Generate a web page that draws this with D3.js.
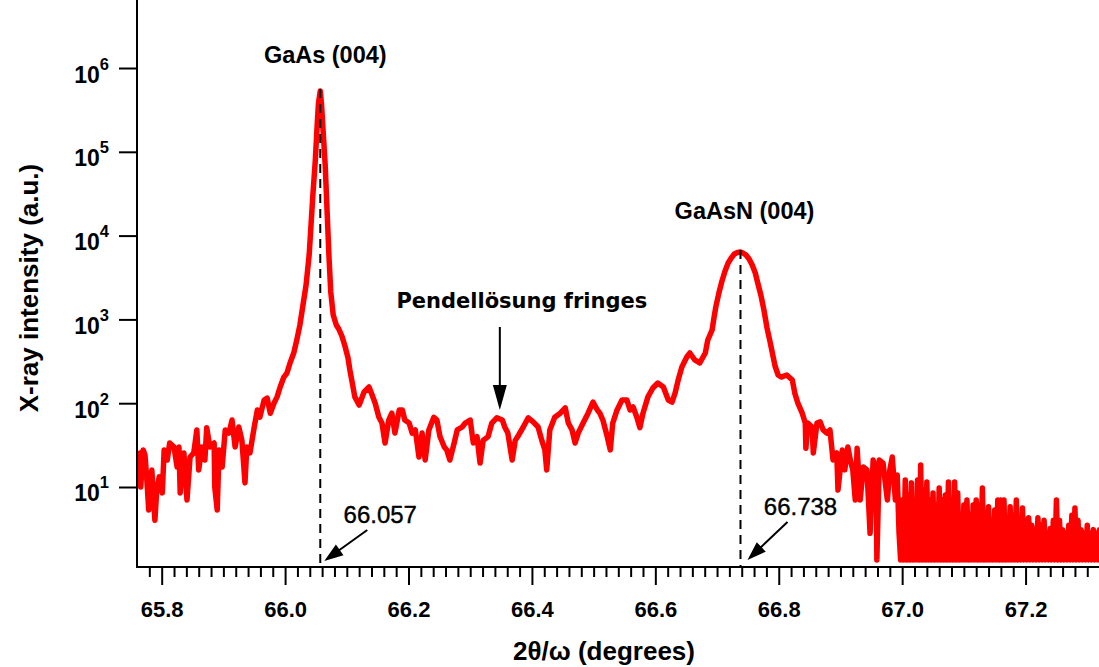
<!DOCTYPE html>
<html>
<head>
<meta charset="utf-8">
<script src="https://cdn.jsdelivr.net/npm/d3@7"></script>
<style>
  html, body { margin: 0; padding: 0; background: #ffffff; }
  svg { display: block; }
</style>
</head>
<body>
<svg id="chart" width="1099" height="667"></svg>
<script>
// ---------------- DATA ----------------
// 2theta/omega scan (degrees) and X-ray intensity (a.u.)
const twoTheta = [
  65.765, 65.766, 65.770, 65.773, 65.776, 65.779, 65.784, 65.789, 65.792, 65.796,
  65.801, 65.804, 65.809, 65.813, 65.820, 65.825, 65.828, 65.830, 65.833, 65.836,
  65.841, 65.846, 65.852, 65.857, 65.860, 65.865, 65.870, 65.873, 65.878, 65.885,
  65.886, 65.890, 65.893, 65.898, 65.903, 65.909, 65.914, 65.919, 65.925, 65.930,
  65.935, 65.938, 65.943, 65.950, 65.955, 65.959, 65.966, 65.971, 65.976, 65.982,
  65.987, 65.992, 65.998, 66.003, 66.008, 66.014, 66.019, 66.024, 66.029, 66.034,
  66.039, 66.042, 66.045, 66.049, 66.052, 66.054, 66.057, 66.059, 66.061, 66.065,
  66.068, 66.071, 66.074, 66.078, 66.083, 66.087, 66.092, 66.097, 66.102, 66.105,
  66.108, 66.113, 66.120, 66.128, 66.136, 66.141, 66.146, 66.152, 66.157, 66.162,
  66.168, 66.173, 66.178, 66.185, 66.190, 66.194, 66.201, 66.206, 66.211, 66.217,
  66.222, 66.227, 66.233, 66.241, 66.246, 66.251, 66.258, 66.262, 66.267, 66.274,
  66.279, 66.287, 66.292, 66.300, 66.305, 66.311, 66.316, 66.321, 66.329, 66.335,
  66.343, 66.352, 66.356, 66.361, 66.368, 66.373, 66.377, 66.386, 66.394, 66.402,
  66.410, 66.416, 66.421, 66.424, 66.429, 66.437, 66.446, 66.454, 66.459, 66.465,
  66.470, 66.475, 66.483, 66.491, 66.499, 66.506, 66.510, 66.515, 66.522, 66.527,
  66.531, 66.538, 66.546, 66.554, 66.559, 66.564, 66.570, 66.575, 66.580, 66.588,
  66.596, 66.604, 66.613, 66.621, 66.627, 66.632, 66.637, 66.643, 66.651, 66.656,
  66.664, 66.672, 66.681, 66.685, 66.692, 66.695, 66.698, 66.703, 66.708, 66.713,
  66.718, 66.723, 66.728, 66.733, 66.738, 66.742, 66.747, 66.752, 66.757, 66.762,
  66.766, 66.771, 66.776, 66.781, 66.786, 66.789, 66.794, 66.799, 66.804, 66.813,
  66.822, 66.826, 66.831, 66.838, 66.843, 66.844, 66.847, 66.854, 66.856, 66.862,
  66.867, 66.872, 66.878, 66.883, 66.888, 66.894, 66.896, 66.903, 66.907, 66.912,
  66.916, 66.920, 66.924, 66.927, 66.932, 66.937, 66.943, 66.948, 66.953, 66.958,
  66.959, 66.963, 66.969, 66.976, 66.980, 66.984, 66.989, 66.992,
  66.9950, 66.9975, 67.0000, 67.0025, 67.0050, 67.0075, 67.0100, 67.0125, 67.0150, 67.0175,
  67.0200, 67.0225, 67.0250, 67.0275, 67.0300, 67.0325, 67.0350, 67.0375, 67.0400, 67.0425,
  67.0450, 67.0475, 67.0500, 67.0525, 67.0550, 67.0575, 67.0600, 67.0625, 67.0650, 67.0675,
  67.0700, 67.0725, 67.0750, 67.0775, 67.0800, 67.0825, 67.0850, 67.0875, 67.0900, 67.0925,
  67.0950, 67.0975, 67.1000, 67.1025, 67.1050, 67.1075, 67.1100, 67.1125, 67.1150, 67.1175,
  67.1200, 67.1225, 67.1250, 67.1275, 67.1300, 67.1325, 67.1350, 67.1375, 67.1400, 67.1425,
  67.1450, 67.1475, 67.1500, 67.1525, 67.1550, 67.1575, 67.1600, 67.1625, 67.1650, 67.1675,
  67.1700, 67.1725, 67.1750, 67.1775, 67.1800, 67.1825, 67.1850, 67.1875, 67.1900, 67.1925,
  67.1950, 67.1975, 67.2000, 67.2025, 67.2050, 67.2075, 67.2100, 67.2125, 67.2150, 67.2175,
  67.2200, 67.2225, 67.2250, 67.2275, 67.2300, 67.2325, 67.2350, 67.2375, 67.2400, 67.2425,
  67.2450, 67.2475, 67.2500, 67.2525, 67.2550, 67.2575, 67.2600, 67.2625, 67.2650, 67.2675,
  67.2700, 67.2725, 67.2750, 67.2775, 67.2800, 67.2825, 67.2850, 67.2875, 67.2900, 67.2925,
  67.2950, 67.2975, 67.3000, 67.3025, 67.3050, 67.3075, 67.3100, 67.3125, 67.3150, 67.3175,
  67.3200
];

const intensity = [
  25.5, 10, 27.7, 24, 12.1, 5.3, 16, 4.0, 9.2, 13.2,
  8.5, 27.7, 21, 33.5, 30, 17.3, 30, 8.5, 18.3, 25.5,
  7.0, 22.8, 25.5, 48, 16, 30, 21, 51, 30, 33.5,
  10, 5.3, 27.7, 17.3, 48, 44, 63, 30, 52, 36,
  11.2, 30, 25.5, 52, 83, 68, 109, 115, 76, 100,
  119, 156, 205, 229, 302, 397, 568, 857, 1486, 2576,
  5860, 13360, 30480, 79800, 209000, 372000, 532000, 372000, 209000, 69500,
  20200, 5860, 2123, 1130, 857, 768, 634, 482, 346, 249,
  189, 119, 95, 136, 156, 125, 100, 68, 58, 33.5,
  63, 76, 44, 83, 83, 63, 58, 44, 48, 22.8,
  44, 21, 48, 68, 63, 40, 30, 27.7, 21, 33.5,
  48, 52, 58, 63, 33.5, 40, 19.3, 36, 40, 58,
  67, 63, 52, 44, 21, 36, 40, 52, 67, 60,
  52, 36, 27.7, 16, 48, 68, 76, 88, 58, 48,
  33.5, 44, 58, 76, 103, 83, 76, 63, 40, 27.7,
  58, 83, 109, 109, 83, 90, 68, 51, 76, 119,
  152, 174, 156, 109, 103, 132, 189, 271, 356, 397,
  328, 302, 397, 568, 748, 1040, 1406, 2065, 2871, 3784,
  4713, 5407, 6030, 6280, 6370, 6194, 5860, 5260, 4460, 3580,
  2718, 1954, 1294, 789, 537, 420, 278, 217, 205, 217,
  189, 132, 100, 76, 58, 29, 58, 52, 25.5, 58,
  60, 48, 44, 48, 21, 25.5, 9.2, 27.7, 16, 30,
  21, 16, 7.0, 29, 7.0, 17.3, 16, 2.8, 21, 16,
  1.35, 21, 19.3, 7.0, 16, 22.8, 7.0, 13.9,
  2.8, 1.35, 7.0, 1.35, 12.1, 1.35, 8.0, 1.35, 11.2, 1.35,
  6.1, 1.35, 12.1, 1.35, 18.3, 1.35, 9.2, 1.35, 11.5, 1.35,
  7.0, 1.35, 8.5, 1.35, 6.1, 1.35, 9.7, 1.35, 7.0, 1.35,
  8.0, 1.35, 11.5, 1.35, 7.0, 1.35, 11.5, 1.35, 8.5, 1.35,
  4.4, 1.35, 6.1, 1.35, 7.0, 1.35, 4.6, 1.35, 6.1, 1.35,
  7.0, 1.35, 6.1, 1.35, 9.7, 1.35, 5.0, 1.35, 5.8, 1.35,
  4.0, 1.35, 5.3, 1.35, 7.0, 1.35, 7.0, 1.35, 7.0, 1.35,
  4.0, 1.35, 5.8, 1.35, 4.6, 1.35, 7.0, 1.35, 3.5, 1.35,
  5.6, 1.35, 4.0, 1.35, 4.3, 1.35, 3.5, 1.35, 3.1, 1.35,
  4.3, 1.35, 3.5, 1.35, 4.0, 1.35, 2.8, 1.35, 3.2, 1.35,
  4.0, 1.35, 7.0, 1.35, 4.0, 1.35, 3.1, 1.35, 2.8, 1.35,
  3.5, 1.35, 4.6, 1.35, 5.6, 1.35, 4.0, 1.35, 3.1, 1.35,
  2.8, 1.35, 3.5, 1.35, 2.8, 1.35, 3.1, 1.35, 2.8, 1.35,
  3.1
];

const xTickValues = [65.8, 66.0, 66.2, 66.4, 66.6, 66.8, 67.0, 67.2];
const xTickLabels = ["65.8", "66.0", "66.2", "66.4", "66.6", "66.8", "67.0", "67.2"];
const yTickValues = [1e1, 1e2, 1e3, 1e4, 1e5, 1e6];
const yTickExponents = ["1", "2", "3", "4", "5", "6"];

const peakPositions = [66.057, 66.738];
const peakIntensities = [532000, 6370];
const peakNames = ["GaAs (004)", "GaAsN (004)"];
const peakValueLabels = ["66.057", "66.738"];
const fringeLabel = "Pendellösung fringes";
const fringePosition = 66.348;

const xTitle = "2θ/ω (degrees)";
const yTitle = "X-ray intensity (a.u.)";

// ---------------- LAYOUT ----------------
const W = 1099, H = 667;
const plot = { left: 137, right: 1099, top: 0, bottom: 567 };
const FONT = "'Liberation Sans', Arial, Helvetica, sans-serif";

const svg = d3.select("#chart");
svg.append("rect").attr("width", W).attr("height", H).attr("fill", "#fff");

const x = d3.scaleLinear().domain([65.76, 67.319]).range([plot.left, plot.right]);
const y = d3.scaleLog().domain([1.11, 6.48e6]).range([plot.bottom, plot.top]);

svg.append("defs").append("clipPath").attr("id", "clip")
  .append("rect").attr("x", plot.left).attr("y", plot.top)
  .attr("width", plot.right - plot.left).attr("height", plot.bottom - plot.top);

const data = twoTheta.map((t, i) => ({ t, v: intensity[i] }));

// data line
const line = d3.line().x(d => x(d.t)).y(d => y(d.v));
svg.append("path")
  .datum(data)
  .attr("clip-path", "url(#clip)")
  .attr("d", line)
  .attr("fill", "none")
  .attr("stroke", "#ff0000")
  .attr("stroke-width", 5.5)
  .attr("stroke-linejoin", "round")
  .attr("stroke-linecap", "round");

// dashed peak markers (drawn over the curve)
peakPositions.forEach((p, i) => {
  svg.append("line")
    .attr("x1", x(p)).attr("x2", x(p))
    .attr("y1", y(peakIntensities[i]) - 2).attr("y2", plot.bottom)
    .attr("stroke", "#000").attr("stroke-width", 2)
    .attr("stroke-dasharray", "9,6");
});

// ---------------- AXES ----------------
const minorTicks = d3.range(0, 78).map(k => +(65.78 + k * 0.02).toFixed(2))
  .filter(v => !xTickValues.some(m => Math.abs(m - v) < 1e-6));

const gx = svg.append("g").attr("transform", `translate(0,${plot.bottom})`);
gx.call(d3.axisBottom(x).tickValues(minorTicks).tickSize(10).tickFormat(""))
  .call(g => g.select(".domain").remove());
gx.selectAll("line").attr("stroke", "#000").attr("stroke-width", 2);

const gxMaj = svg.append("g").attr("transform", `translate(0,${plot.bottom})`);
gxMaj.call(d3.axisBottom(x).tickValues(xTickValues).tickSize(18)
  .tickFormat((d, i) => xTickLabels[i]))
  .call(g => g.select(".domain").remove());
gxMaj.selectAll("line").attr("stroke", "#000").attr("stroke-width", 2);
gxMaj.selectAll("text")
  .attr("y", 50).attr("dy", 0)
  .attr("fill", "#000")
  .style("font-family", FONT).style("font-weight", "bold").style("font-size", "22px");

const gy = svg.append("g").attr("transform", `translate(${plot.left},0)`);
gy.call(d3.axisLeft(y).tickValues(yTickValues).tickSize(18).tickFormat(""))
  .call(g => g.select(".domain").remove());
gy.selectAll("line").attr("stroke", "#000").attr("stroke-width", 2);
gy.selectAll(".tick").each(function(d, i) {
  const t = d3.select(this).append("text")
    .attr("x", -28).attr("y", 14)
    .attr("text-anchor", "end")
    .attr("fill", "#000")
    .style("font-family", FONT).style("font-weight", "bold").style("font-size", "23px");
  t.append("tspan").text("10");
  t.append("tspan").attr("dy", -13).style("font-size", "16.5px").text(yTickExponents[i]);
});

svg.append("line").attr("x1", plot.left - 1).attr("x2", plot.right)
  .attr("y1", plot.bottom).attr("y2", plot.bottom)
  .attr("stroke", "#000").attr("stroke-width", 2);
svg.append("line").attr("x1", plot.left).attr("x2", plot.left)
  .attr("y1", plot.top).attr("y2", plot.bottom + 1)
  .attr("stroke", "#000").attr("stroke-width", 2);

svg.append("text")
  .attr("x", 604).attr("y", 660)
  .attr("text-anchor", "middle").attr("fill", "#000")
  .style("font-family", FONT).style("font-weight", "bold").style("font-size", "26px")
  .text(xTitle);

svg.append("text")
  .attr("transform", "translate(38,288) rotate(-90)")
  .attr("text-anchor", "middle").attr("fill", "#000")
  .style("font-family", FONT).style("font-weight", "bold").style("font-size", "26px")
  .text(yTitle);

// ---------------- ANNOTATIONS ----------------
function arrow(x1, y1, x2, y2, headLen, headW) {
  const dx = x2 - x1, dy = y2 - y1, L = Math.hypot(dx, dy);
  const ux = dx / L, uy = dy / L;
  const bx = x2 - ux * headLen, by = y2 - uy * headLen;
  svg.append("line").attr("x1", x1).attr("y1", y1).attr("x2", bx + ux * 2).attr("y2", by + uy * 2)
    .attr("stroke", "#000").attr("stroke-width", 2);
  const px = -uy * headW / 2, py = ux * headW / 2;
  svg.append("path")
    .attr("d", `M${x2},${y2}L${bx + px},${by + py}L${bx - px},${by - py}Z`)
    .attr("fill", "#000");
}

const nameOffsets = [[5, -28], [4, -33]];
peakNames.forEach((n, i) => {
  svg.append("text")
    .attr("x", x(peakPositions[i]) + nameOffsets[i][0])
    .attr("y", y(peakIntensities[i]) + nameOffsets[i][1])
    .attr("text-anchor", "middle").attr("fill", "#000")
    .style("font-family", FONT).style("font-weight", "bold").style("font-size", "23.5px")
    .text(n);
});

const valueLabelBaselines = [523, 515];
const arrowTails = [[47, 530], [47, 522]];
const arrowTips = [[4, 561], [7, 560]];
peakValueLabels.forEach((lab, i) => {
  const px = x(peakPositions[i]);
  svg.append("text")
    .attr("x", px + 60).attr("y", valueLabelBaselines[i])
    .attr("text-anchor", "middle").attr("fill", "#000")
    .style("font-family", FONT).style("font-size", "24px")
    .style("stroke", "#000").style("stroke-width", 0.4)
    .text(lab);
  arrow(px + arrowTails[i][0], arrowTails[i][1], px + arrowTips[i][0], arrowTips[i][1], 19, 13);
});

svg.append("text")
  .attr("x", x(fringePosition) + 22).attr("y", 308)
  .attr("text-anchor", "middle").attr("fill", "#000")
  .style("font-family", "'DejaVu Sans', Verdana, sans-serif")
  .style("font-weight", "bold").style("font-size", "21px")
  .text(fringeLabel);
arrow(x(fringePosition), 327, x(fringePosition), 410, 25, 14);
</script>
</body>
</html>
